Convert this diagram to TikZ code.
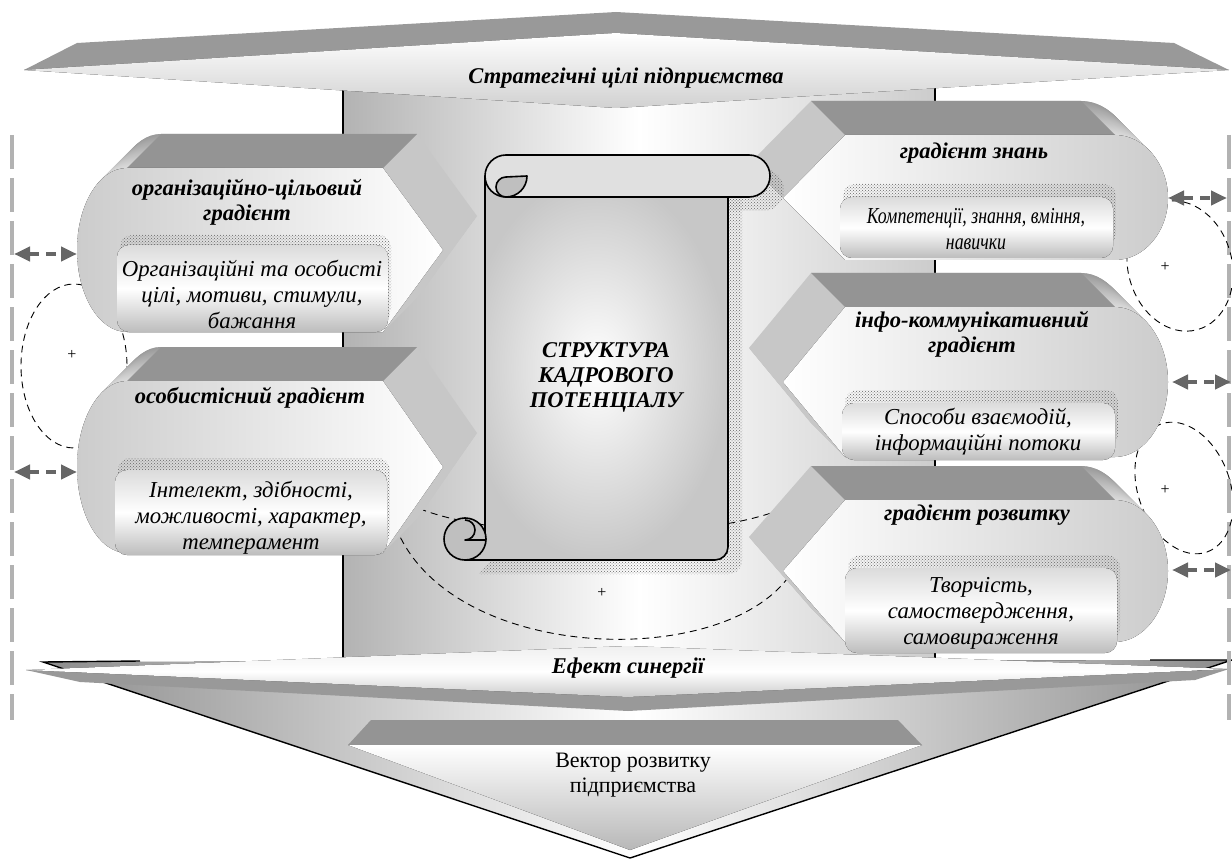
\documentclass[tikz,border=0pt]{standalone}
\usepackage{fontspec}
\setmainfont{Liberation Serif}
\usetikzlibrary{arrows.meta,patterns}

\tikzset{
  sideface/.style={fill=black!22},
  topface/.style={fill=black!42},
  lfront/.style={left color=black!20, right color=white},
  rfront/.style={left color=white, right color=black!20},
  boxshadow/.style={pattern=crosshatch dots, pattern color=black!60, rounded corners=12pt},
  textbox/.style={rounded corners=12pt, top color=black!14, bottom color=black!26, middle color=white},
  titletext/.style={font=\fontsize{22.5}{25}\selectfont\bfseries\itshape, align=center},
  boxtext/.style={font=\fontsize{22.8}{26}\selectfont\itshape, align=center},
  ring/.style={dash pattern=on 7pt off 5pt, line width=0.9pt},
  bothway/.style={black!60, line width=4pt, dash pattern=on 10pt off 7pt,
    {Triangle[length=16pt,width=14pt]}-{Triangle[length=16pt,width=14pt]}},
  edgeline/.style={black!30, line width=4pt, dash pattern=on 34pt off 9pt},
  scrollline/.style={line width=1.6pt, line join=round},
  plus/.style={font=\fontsize{16}{16}\selectfont},
}

\newcommand{\lchevron}[4]{%
  \foreach \dd in {34,33,...,1}
    \fill[sideface, shift={(\dd,-\dd)}] (383,#1) -- (443,#2) -- (383,#3) -- (127,#3)
      .. controls (99,#3) and (77,#2+#4) .. (77,#2) .. controls (77,#2-#4) and (99,#1) .. (127,#1) -- cycle;
  \begin{scope}
  \clip (60,#1-40) rectangle (161,#3);
  \foreach \dd in {34,33,...,1} {
    \pgfmathsetmacro\tone{14+0.75*\dd}
    \fill[black!\tone, shift={(\dd,-\dd)}] (383,#1) -- (443,#2) -- (383,#3) -- (127,#3)
      .. controls (99,#3) and (77,#2+#4) .. (77,#2) .. controls (77,#2-#4) and (99,#1) .. (127,#1) -- cycle;
  }
  \end{scope}
  \fill[topface] (127,#1) -- (383,#1) -- (417,#1-34) -- (161,#1-34) -- cycle;
  \fill[lfront] (383,#1) -- (443,#2) -- (383,#3) -- (127,#3)
    .. controls (99,#3) and (77,#2+#4) .. (77,#2) .. controls (77,#2-#4) and (99,#1) .. (127,#1) -- cycle;
}
\newcommand{\rchevron}[4]{%
  \foreach \dd in {34,33,...,1}
    \fill[sideface, shift={(-\dd,-\dd)}] (845,#1) -- (783,#2) -- (845,#3) -- (1115,#3)
      .. controls (1144,#3) and (1168,#2+#4) .. (1168,#2) .. controls (1168,#2-#4) and (1144,#1) .. (1115,#1) -- cycle;
  \begin{scope}
  \clip (1081,#1-40) rectangle (1185,#3);
  \foreach \dd in {34,33,...,1} {
    \pgfmathsetmacro\tone{14+0.75*\dd}
    \fill[black!\tone, shift={(-\dd,-\dd)}] (845,#1) -- (783,#2) -- (845,#3) -- (1115,#3)
      .. controls (1144,#3) and (1168,#2+#4) .. (1168,#2) .. controls (1168,#2-#4) and (1144,#1) .. (1115,#1) -- cycle;
  }
  \end{scope}
  \fill[topface] (845,#1) -- (1115,#1) -- (1081,#1-34) -- (811,#1-34) -- cycle;
  \fill[rfront] (845,#1) -- (783,#2) -- (845,#3) -- (1115,#3)
    .. controls (1144,#3) and (1168,#2+#4) .. (1168,#2) .. controls (1168,#2-#4) and (1144,#1) .. (1115,#1) -- cycle;
}

\begin{document}
\begin{tikzpicture}[x=1pt,y=-1pt]
\useasboundingbox (0,0) rectangle (1232,861);

\fill[left color=black!30, right color=black!20, middle color=white] (343,60) rectangle (935,680);
\draw[line width=1.4pt] (343,60) -- (343,680);
\draw[line width=1.4pt] (935,60) -- (935,680);

\fill[left color=black!45, right color=black!45, middle color=white] (43,662) -- (630,858) -- (1232,660) -- cycle;
\draw[line width=1.4pt] (140,661) -- (43,662) -- (630,858) -- (1232,660) -- (1150,660);
\fill[black!42] (371,720) -- (898,720) -- (922,745) -- (348,745) -- cycle;
\fill[top color=white, bottom color=black!28] (348,745) -- (922,745) -- (630,850) -- cycle;
\node[align=center, font=\fontsize{22}{25}\selectfont] (vector) at (633,775) {Вектор розвитку\\підприємства};
\fill[black!40] (26,670) -- (628,697) -- (1229,669) -- (1195,680) -- (628,711) -- (80,682) -- cycle;
\fill[top color=black!6, bottom color=black!20, middle color=white] (26,670) -- (628,646) -- (1229,669) -- (628,697) -- cycle;
\node[titletext] (synergy) at (628,668) {Ефект синергії};

\fill[black!40] (24,70) -- (77,43) -- (616,12) -- (1174,43) -- (1229,70) -- (616,33) -- cycle;
\fill[top color=white, bottom color=black!18] (24,70) -- (616,33) -- (1229,70) -- (616,108) -- cycle;
\node[titletext] (goals) at (626,78) {Стратегічні цілі підприємства};

\draw[edgeline] (12,135) -- (12,720);
\draw[edgeline] (1229,135) -- (1229,720);

\draw[ring] (74,366) ellipse [x radius=53, y radius=82];
\draw[ring, rotate around={15:(1180,266)}] (1180,266) ellipse [x radius=52, y radius=66];
\draw[ring, rotate around={20:(1184,488)}] (1184,488) ellipse [x radius=46, y radius=68];
\draw[ring] (398,498) .. controls (470,545) and (730,545) .. (800,500) -- (800,555)
  .. controls (760,672) and (450,672) .. (395,525) -- cycle;

\lchevron{168}{250}{332}{45}
\fill[boxshadow] (120,235) rectangle (391,322);
\fill[textbox] (117,245) rectangle (388,332);
\node[titletext] (titleL1) at (247,202) {організаційно-цільовий\\градієнт};
\begin{scope}
\clip[rounded corners=12pt] (117,245) rectangle (388,332);
\node[boxtext] (boxL1) at (252,294) {Організаційні та особисті\\цілі, мотиви, стимули,\\бажання};
\end{scope}

\lchevron{381}{467}{553}{47}
\fill[boxshadow] (118,458) rectangle (390,545);
\fill[textbox] (115,470) rectangle (387,555);
\node[titletext] (titleL2) at (250,398) {особистісний градієнт};
\begin{scope}
\clip[rounded corners=12pt] (115,470) rectangle (387,555);
\node[boxtext] (boxL2) at (251,518) {Інтелект, здібності,\\можливості, характер,\\темперамент};
\end{scope}

\rchevron{135}{198}{260}{34}
\fill[boxshadow] (843,184) rectangle (1116,245);
\fill[textbox] (840,197) rectangle (1113,258);
\node[titletext] (titleR1) at (974,153) {градієнт знань};
\begin{scope}
\clip[rounded corners=12pt] (840,197) rectangle (1113,258);
\node[boxtext] (boxR1) at (976,229) {\scalebox{0.78}[1]{Компетенції, знання, вміння,}\\\scalebox{0.78}[1]{навички}};
\end{scope}

\rchevron{307}{382}{457}{41}
\fill[boxshadow] (845,390) rectangle (1118,447);
\fill[textbox] (842,403) rectangle (1115,460);
\node[titletext] (titleR2) at (972,334) {інфо-коммунікативний\\градієнт};
\begin{scope}
\clip[rounded corners=12pt] (842,403) rectangle (1115,460);
\node[boxtext] (boxR2) at (978,432) {Способи взаємодій,\\інформаційні потоки};
\end{scope}

\rchevron{500}{571}{642}{39}
\fill[boxshadow] (848,555) rectangle (1120,640);
\fill[textbox] (845,568) rectangle (1117,653);
\node[titletext] (titleR3) at (977,515) {градієнт розвитку};
\begin{scope}
\clip[rounded corners=12pt] (845,568) rectangle (1117,653);
\node[boxtext] (boxR3) at (981,613) {Творчість,\\самоствердження,\\самовираження};
\end{scope}

\begin{scope}[shift={(14,14)}]
\fill[pattern=crosshatch dots, pattern color=black!60] (485,176) -- (485,539) -- (465,560) -- (715,560)
  arc[start angle=90, end angle=0, radius=13] -- (728,176) -- cycle;
\fill[pattern=crosshatch dots, pattern color=black!60] (506,155) -- (749,155)
  arc[start angle=-90, end angle=90, radius=21] -- (506,197) -- cycle;
\end{scope}
\draw[scrollline, inner color=white, outer color=black!22] (485,176) -- (485,539) -- (465,560) -- (715,560)
  arc[start angle=90, end angle=0, radius=13] -- (728,176) -- cycle;
\draw[scrollline, fill=black!25] (465,539) circle [radius=21];
\draw[scrollline] (486,540) -- (465,540) arc[start angle=90, end angle=-90, radius=10];
\draw[scrollline, fill=black!12] (506,155) -- (749,155) arc[start angle=-90, end angle=90, radius=21]
  -- (506,197) arc[start angle=90, end angle=270, radius=21] -- cycle;
\draw[scrollline, fill=black!25] (506,177) arc[start angle=-90, end angle=-270, radius=10]
  arc[start angle=90, end angle=0, radius=21] -- cycle;
\node[titletext] (scrolltext) at (606,377) {СТРУКТУРА\\КАДРОВОГО\\ПОТЕНЦІАЛУ};

\coordinate (edgeL1) at (14,254);  \coordinate (endL1) at (77,254);
\coordinate (edgeL2) at (14,472);  \coordinate (endL2) at (77,472);
\coordinate (endR1) at (1168,198); \coordinate (edgeR1) at (1227,198);
\coordinate (endR2) at (1172,382); \coordinate (edgeR2) at (1231,382);
\coordinate (endR3) at (1172,570); \coordinate (edgeR3) at (1231,570);
\draw[bothway] (edgeL1) -- (endL1);
\draw[bothway] (edgeL2) -- (endL2);
\draw[bothway] (endR1) -- (edgeR1);
\draw[bothway] (endR2) -- (edgeR2);
\draw[bothway] (endR3) -- (edgeR3);

\node[plus] (plusL) at (72,355) {+};
\node[plus] (plusB) at (602,593) {+};
\node[plus] (plusR1) at (1165,267) {+};
\node[plus] (plusR2) at (1165,490) {+};
\end{tikzpicture}
\end{document}
